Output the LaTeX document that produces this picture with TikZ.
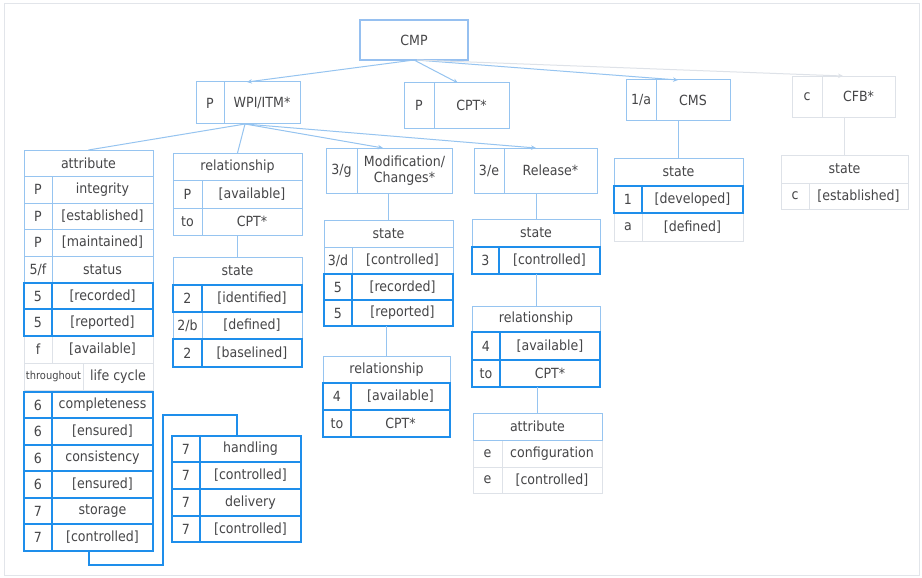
\documentclass[tikz,border=0pt]{standalone}
\usepackage{fontspec}
\setmainfont{DejaVu Sans}[FakeStretch=0.9]
\usetikzlibrary{arrows.meta,calc}
\definecolor{thinc}{RGB}{150,196,240}
\definecolor{thickc}{RGB}{30,142,235}
\definecolor{faintc}{RGB}{222,226,232}
\definecolor{txtc}{RGB}{70,70,72}
\definecolor{framec}{RGB}{226,229,234}
\definecolor{cmpc}{RGB}{150,192,240}

\newcommand\hrow[7]{% name, x1, x2, y1, y2, text, style
  \pgfmathsetmacro\myW{#3-#2}\pgfmathsetmacro\myH{#5-#4}%
  \node[cell,#7,minimum width=\myW pt,minimum height=\myH pt] (#1) at (#2,#4) {#6};}
\newcommand\trow[9]{% name, x1, xd, x2, y1, y2, left, right, style
  \pgfmathsetmacro\myWa{#3-#2}\pgfmathsetmacro\myWb{#4-#3}\pgfmathsetmacro\myH{#6-#5}%
  \node[cell,#9,minimum width=\myWa pt,minimum height=\myH pt] (#1-a) at (#2,#5) {#7};
  \node[cell,#9,minimum width=\myWb pt,minimum height=\myH pt] (#1-b) at (#3,#5) {#8};}

\tikzset{
  cell/.style={anchor=north west, inner sep=0pt, outer sep=0pt, text=txtc,
    font=\fontsize{14}{16}\selectfont, align=center},
  tcell/.style={draw=thinc, line width=1pt},
  kcell/.style={draw=thickc, line width=2pt},
  fcell/.style={draw=faintc, line width=0.9pt},
  cmpbox/.style={draw=cmpc, line width=2.8pt},
  conn/.style={draw=thinc, line width=1pt},
  fconn/.style={draw=faintc, line width=1pt},
  kconn/.style={draw=thickc, line width=2pt},
  arr/.style={conn, -{Stealth[length=5pt,width=4.5pt]}},
  farr/.style={fconn, -{Stealth[length=5pt,width=4.5pt]}},
}

\begin{document}
\begin{tikzpicture}[x=1pt,y=-1pt]
\fill[white] (0,0) rectangle (922,578);
\useasboundingbox (0,0) rectangle (922,578);
\draw[framec, line width=1pt] (4,4) rectangle (919,575);

% top level
\hrow{cmp}{360}{468}{20}{60}{CMP}{cmpbox}
\trow{wpi}{196}{224}{300}{82}{124}{P}{WPI/ITM*}{tcell}
\trow{cpt}{404}{434}{509}{83}{128}{P}{CPT*}{tcell}
\trow{cms}{626}{656}{730}{80}{121}{1/a}{CMS}{tcell}
\trow{cfb}{792}{822}{895}{76}{117}{c}{CFB*}{fcell}

% attribute table
\trow{a7}{24}{52}{153}{336}{363}{f}{[available]}{fcell}
\trow{a8}{24}{83}{153}{363}{390}{\fontsize{11}{12}\selectfont throughout}{life cycle}{fcell}
\hrow{aH}{24}{153}{150}{176}{attribute}{tcell}
\trow{a1}{24}{52}{153}{176}{203}{P}{integrity}{tcell}
\trow{a2}{24}{52}{153}{203}{229}{P}{[established]}{tcell}
\trow{a3}{24}{52}{153}{229}{256}{P}{[maintained]}{tcell}
\trow{a4}{24}{52}{153}{256}{283}{5/f}{status}{tcell}
\trow{a5}{24}{52}{153}{283}{309}{5}{[recorded]}{kcell}
\trow{a6}{24}{52}{153}{309}{336}{5}{[reported]}{kcell}
\trow{a9}{24}{52}{153}{392}{418}{6}{completeness}{kcell}
\trow{a10}{24}{52}{153}{418}{445}{6}{[ensured]}{kcell}
\trow{a11}{24}{52}{153}{445}{471}{6}{consistency}{kcell}
\trow{a12}{24}{52}{153}{471}{498}{6}{[ensured]}{kcell}
\trow{a13}{24}{52}{153}{498}{524}{7}{storage}{kcell}
\trow{a14}{24}{52}{153}{524}{551}{7}{[controlled]}{kcell}

% relationship / state (column 2)
\hrow{rH}{173}{302}{153}{180}{relationship}{tcell}
\trow{r1}{173}{202}{302}{180}{208}{P}{[available]}{tcell}
\trow{r2}{173}{202}{302}{208}{235}{to}{CPT*}{tcell}
\hrow{sH}{173}{302}{257}{285}{state}{tcell}
\trow{s2}{173}{202}{302}{312}{339}{2/b}{[defined]}{tcell}
\trow{s1}{173}{202}{302}{285}{312}{2}{[identified]}{kcell}
\trow{s3}{173}{202}{302}{339}{367}{2}{[baselined]}{kcell}

% handling table
\trow{h1}{172}{200}{301}{436}{462}{7}{handling}{kcell}
\trow{h2}{172}{200}{301}{462}{489}{7}{[controlled]}{kcell}
\trow{h3}{172}{200}{301}{489}{516}{7}{delivery}{kcell}
\trow{h4}{172}{200}{301}{516}{542}{7}{[controlled]}{kcell}

% Modification column
\trow{mod}{326}{357}{452}{148}{193}{3/g}{Modification/\\Changes*}{tcell}
\hrow{msH}{324}{453}{220}{247}{state}{tcell}
\trow{ms1}{324}{352}{453}{247}{274}{3/d}{[controlled]}{tcell}
\trow{ms2}{324}{352}{453}{274}{300}{5}{[recorded]}{kcell}
\trow{ms3}{324}{352}{453}{300}{326}{5}{[reported]}{kcell}
\hrow{mrH}{323}{450}{356}{383}{relationship}{tcell}
\trow{mr1}{323}{351}{450}{383}{410}{4}{[available]}{kcell}
\trow{mr2}{323}{351}{450}{410}{437}{to}{CPT*}{kcell}

% Release column
\trow{rel}{474}{504}{597}{148}{193}{3/e}{Release*}{tcell}
\hrow{rsH}{472}{600}{219}{247}{state}{tcell}
\trow{rs1}{472}{499}{600}{247}{274}{3}{[controlled]}{kcell}
\hrow{rrH}{472}{600}{306}{332}{relationship}{tcell}
\trow{rr1}{472}{500}{600}{332}{360}{4}{[available]}{kcell}
\trow{rr2}{472}{500}{600}{360}{387}{to}{CPT*}{kcell}
\trow{ra1}{473}{502}{602}{440}{467}{e}{configuration}{fcell}
\trow{ra2}{473}{502}{602}{467}{493}{e}{[controlled]}{fcell}
\hrow{raH}{473}{602}{413}{440}{attribute}{tcell}

% CMS state
\trow{cs2}{614}{642}{743}{213}{241}{a}{[defined]}{fcell}
\hrow{csH}{614}{743}{158}{186}{state}{tcell}
\trow{cs1}{614}{642}{743}{186}{213}{1}{[developed]}{kcell}

% CFB state
\hrow{fsH}{781}{908}{155}{183}{state}{fcell}
\trow{fs1}{781}{809}{908}{183}{209}{c}{[established]}{fcell}

% connectors from CMP
\draw[arr] (cmp.south) -- ([xshift=23pt]wpi-b.north west);
\draw[arr] (cmp.south) -- ([xshift=24pt]cpt-b.north west);
\draw[arr] ([xshift=2pt]cmp.south) -- ([xshift=22pt]cms-b.north west);
\draw[farr] ([xshift=3pt]cmp.south) -- ([xshift=21pt]cfb-b.north west);

% connectors from WPI/ITM*
\draw[conn] ([xshift=21pt]wpi-b.south west) -- (aH.north);
\draw[conn] ([xshift=21pt]wpi-b.south west) -- (rH.north);
\draw[arr] ([xshift=21pt]wpi-b.south west) -- ([xshift=26pt]mod-b.north west);
\draw[arr] ([xshift=21pt]wpi-b.south west) -- ([xshift=32pt]rel-b.north west);

% vertical connectors
\draw[conn] (sH.north |- r2-b.south) -- (sH.north);
\draw[conn] (msH.north |- mod-b.south) -- (msH.north);
\draw[conn] (mrH.north |- ms3-b.south) -- (mrH.north);
\draw[conn] (rsH.north |- rel-b.south) -- (rsH.north);
\draw[conn] (rrH.north |- rs1-b.south) -- (rrH.north);
\draw[conn] (raH.north |- rr2-b.south) -- (raH.north);
\draw[conn] (csH.north |- cms-b.south) -- (csH.north);
\draw[fconn] (fsH.north |- cfb-b.south) -- (fsH.north);

% thick connector attribute table -> handling table
\coordinate (bendA) at (163,565);
\coordinate (bendB) at (163,415);
\coordinate (htop) at ($(h1-a.north west)!0.5!(h1-b.north east)$);
\draw[kconn] (aH.center |- a14-b.south) |- (bendA) -- (bendB) -| (htop);
\end{tikzpicture}
\end{document}
